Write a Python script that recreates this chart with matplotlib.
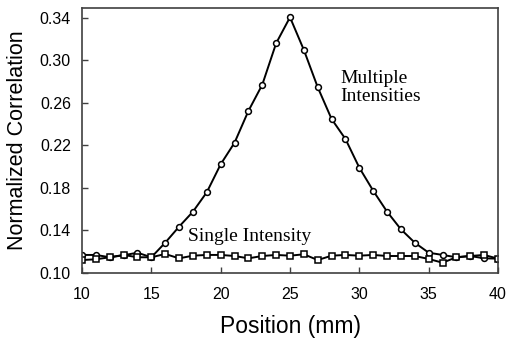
import numpy as np
import matplotlib
matplotlib.use("Agg")
import matplotlib.pyplot as plt

# positions (mm)
position = list(range(10, 41))

multiple = [0.117, 0.117, 0.1148, 0.1167, 0.1191, 0.1148, 0.1285, 0.1436, 0.1577, 0.1760,
            0.2023, 0.2226, 0.2525, 0.2772, 0.3162, 0.3407, 0.3099, 0.2748, 0.2449, 0.2261,
            0.1991, 0.1774, 0.1577, 0.1411, 0.1285, 0.1191, 0.1170, 0.1148, 0.1160, 0.1138,
            0.1135]
single = [0.1122, 0.1129, 0.1148, 0.1170, 0.1148, 0.1148, 0.1179, 0.1138, 0.1163, 0.1170,
          0.1170, 0.1160, 0.1138, 0.1160, 0.1170, 0.1163, 0.1176, 0.1122, 0.1163, 0.1170,
          0.1163, 0.1170, 0.1160, 0.1160, 0.1160, 0.1132, 0.1097, 0.1148, 0.1160, 0.1170,
          0.1135]

xticks = [10, 15, 20, 25, 30, 35, 40]
yticks = [0.10, 0.14, 0.18, 0.22, 0.26, 0.30, 0.34]

plt.rcParams["font.family"] = ["Liberation Sans", "DejaVu Sans"]

fig = plt.figure(figsize=(5.07, 3.44), dpi=100)
ax = fig.add_axes([82/507, 1 - 273/344, 416/507, 265/344])

ax.plot(position, multiple, color="black", linewidth=1.4, marker="o", markersize=4.2,
        markerfacecolor="white", markeredgecolor="black", markeredgewidth=1.1)
ax.plot(position, single, color="black", linewidth=1.4, marker="s", markersize=4.2,
        markerfacecolor="white", markeredgecolor="black", markeredgewidth=1.1)

ax.set_xlim(10, 40)
ax.set_ylim(0.10, 0.3494)
ax.set_xticks(xticks)
ax.set_yticks(yticks)
ax.set_yticklabels([f"{v:.2f}" for v in yticks])
ax.tick_params(direction="in", length=4, width=1, labelsize=11.5, color="#404040")
ax.tick_params(axis="x", pad=10)
ax.tick_params(axis="y", pad=8)

for s in ax.spines.values():
    s.set_color("#404040")
    s.set_linewidth(1.2)

ax.text(28.65, 0.2746, "Multiple\nIntensities", family=["Liberation Serif"],
        fontsize=14, va="center", ha="left", linespacing=1.15)
ax.text(17.66, 0.1348, "Single Intensity", family=["Liberation Serif"],
        fontsize=14, va="center", ha="left")

fig.text((82 + 498) / 2 / 507, 1 - 326/344, "Position (mm)", fontsize=16.5,
         ha="center", va="center")
fig.text(18/507, 1 - 140/344, "Normalized Correlation", fontsize=15.5, rotation=90,
         ha="center", va="center")

fig.savefig("out.png", dpi=100)
